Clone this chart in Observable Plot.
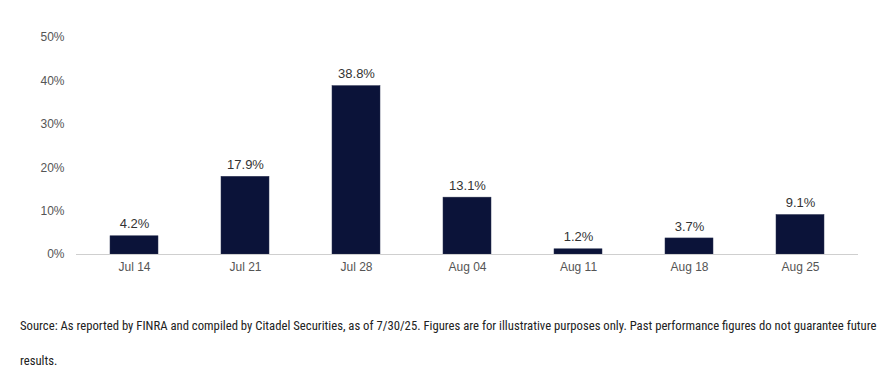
<!DOCTYPE html>
<html><head><meta charset="utf-8">
<script src="https://cdn.jsdelivr.net/npm/d3@7"></script>
<script src="https://cdn.jsdelivr.net/npm/@observablehq/plot@0.6"></script>
<style>
body{margin:0;background:#fff;font-family:"Liberation Sans",Arial,sans-serif;}
#chart{position:absolute;left:0;top:0;}
#cap{position:absolute;left:20px;top:308px;width:862px;font-family:"Roboto Condensed","Liberation Sans",sans-serif;font-size:12.7px;line-height:35px;color:#222;}
</style></head><body>
<div id="chart"></div>
<div id="cap">Source: As reported by FINRA and compiled by Citadel Securities, as of 7/30/25. Figures are for illustrative purposes only. Past performance figures do not guarantee future results.</div>
<script>
const weeks = ["Jul 14","Jul 21","Jul 28","Aug 04","Aug 11","Aug 18","Aug 25"];
const values = [4.2, 17.9, 38.8, 13.1, 1.2, 3.7, 9.1];
const yTicks = [0,10,20,30,40,50];
const data = weeks.map((w,i)=>({week:w, value:values[i]}));

const chart = Plot.plot({
  width: 895, height: 290,
  marginLeft: 76, marginRight: 37, marginTop: 37, marginBottom: 36,
  style: {fontFamily: "'Liberation Sans', Arial, sans-serif", fontSize: "12px", color: "#555", background: "transparent"},
  x: {domain: weeks, paddingInner: 0.57, paddingOuter: 0.285, label: null, tickSize: 0, tickPadding: 8},
  y: {domain: [0,50], ticks: yTicks, tickFormat: d => d + "%", label: null, tickSize: 0, tickPadding: 12},
  marks: [
    Plot.barY(data, {x: "week", y: "value", fill: "#0b1339", stroke: "#2a3050", strokeWidth: 0.5}),
    Plot.ruleY([0], {stroke: "#cfcfcf", strokeWidth: 1}),
    Plot.text(data, {x: "week", y: "value", text: d => d.value.toFixed(1) + "%", dy: -12, fontSize: 13, fill: "#333"})
  ]
});
document.getElementById("chart").appendChild(chart);
</script>
</body></html>
